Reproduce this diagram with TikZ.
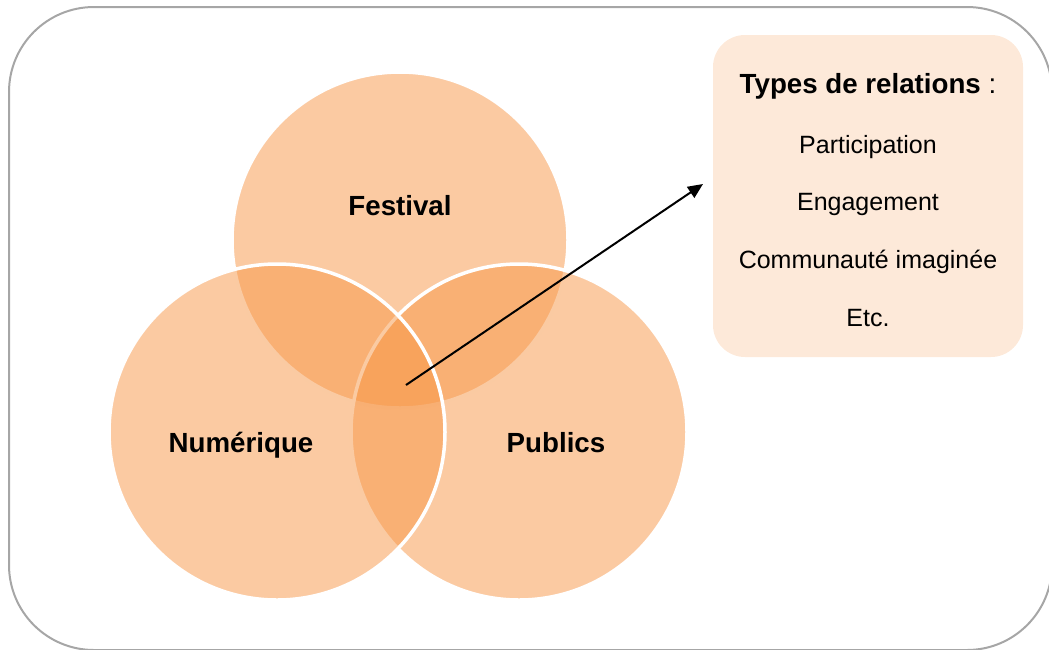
\documentclass[tikz,border=0pt]{standalone}
\usepackage{fontspec}
\setmainfont{Liberation Sans}
\usetikzlibrary{arrows.meta}

\definecolor{venn}{HTML}{F79646}
\definecolor{panel}{HTML}{FDE9D9}
\definecolor{frame}{HTML}{A6A6A6}

\tikzset{
  vennset/.style={circle, minimum size=336pt, inner sep=0pt,
    fill=venn, fill opacity=0.5, draw=white, draw opacity=1, line width=3.5pt},
  setlabel/.style={anchor=base, inner sep=0pt, text opacity=1,
    font=\fontsize{27.7}{32}\selectfont\bfseries},
  itemtext/.style={anchor=base, inner sep=0pt,
    font=\fontsize{25}{30}\selectfont},
  pointer/.style={line width=2pt, -{Triangle[length=15pt,width=13pt]}}
}

\begin{document}
\begin{tikzpicture}[x=1pt,y=-1pt]
  \useasboundingbox (0,0) rectangle (1049,649);

  % outer frame
  \draw[frame, line width=2pt, rounded corners=85pt] (9,7) rectangle (1052,650);

  % the three sets
  \node[vennset] (festival)  at (400,240) {};
  \node[vennset] (publics)   at (519,432) {};
  \node[vennset] (numerique) at (277,432) {};

  \node[setlabel] (lfest) at (400,215) {Festival};
  \node[setlabel] (lnum)  at (241,452) {Numérique};
  \node[setlabel] (lpub)  at (556,452) {Publics};

  % relation types panel
  \node[fill=panel, rounded corners=32pt, minimum width=310pt, minimum height=322pt,
        inner sep=0pt] (panel) at (868,196) {};
  \node[itemtext] (title) at (868,93)
    {\fontsize{27.7}{32}\selectfont\textbf{Types de relations} :};
  \node[itemtext] (i1) at (868,153) {Participation};
  \node[itemtext] (i2) at (868,210) {Engagement};
  \node[itemtext] (i3) at (868,268) {Communauté imaginée};
  \node[itemtext] (i4) at (868,326) {Etc.};

  % pointer from the common intersection to the panel
  \coordinate (core) at (406,385);
  \coordinate (tip)  at (703,184);
  \draw[pointer] (core) -- (tip);
\end{tikzpicture}
\end{document}
